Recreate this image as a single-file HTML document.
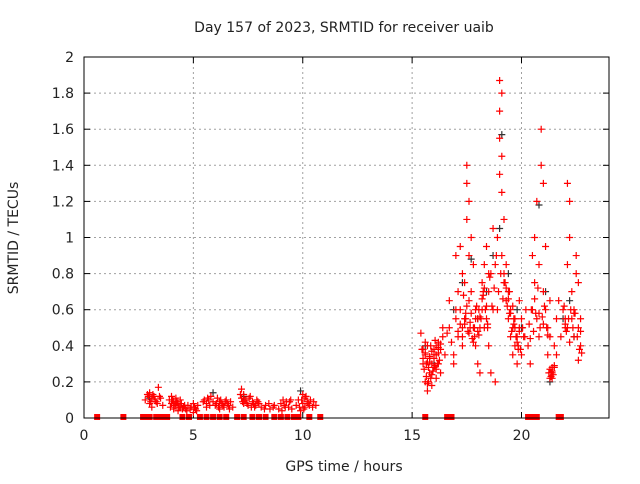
<!DOCTYPE html>
<html><head><meta charset="utf-8"><style>
body{margin:0;background:#fff;font-family:"DejaVu Sans",sans-serif}
svg text{font-family:"DejaVu Sans",sans-serif;font-size:14px;fill:#222}
</style></head><body>
<svg id="c" width="640" height="480" xmlns="http://www.w3.org/2000/svg"></svg>
<script>
const xTicks=[0,5,10,15,20];
const yTicks=[0,0.2,0.4,0.6,0.8,1,1.2,1.4,1.6,1.8,2];
const yTickLabels=["0","0.2","0.4","0.6","0.8","1","1.2","1.4","1.6","1.8","2"];
const redTimes=[2.8,2.9,3.0,3.0,3.1,3.1,3.2,3.3,3.4,3.5,3.6,3.9,4.0,4.0,4.1,4.1,4.2,4.2,4.3,4.3,4.4,4.4,4.5,4.6,4.7,4.9,5.0,5.0,5.1,5.2,5.5,5.6,5.6,5.7,5.8,5.9,6.0,6.1,6.2,6.2,6.3,6.4,6.5,6.6,6.7,6.8,7.2,7.2,7.3,7.3,7.4,7.5,7.6,7.7,7.8,7.9,8.0,8.1,8.3,8.5,8.7,8.9,9.0,9.1,9.2,9.4,9.5,9.7,9.8,9.9,10.0,10.0,10.1,10.1,10.2,10.3,10.5,10.6,
15.4,15.5,15.5,15.6,15.6,15.7,15.7,15.8,15.8,15.9,15.9,16.0,16.0,16.1,16.1,16.2,16.2,16.3,16.3,16.4,16.4,16.5,16.7,16.8,16.9,17.0,17.0,17.1,17.1,17.2,17.2,17.3,17.3,17.4,17.4,17.5,17.5,17.5,17.6,17.6,17.6,17.7,17.7,17.8,17.8,17.9,17.9,18.0,18.0,18.1,18.1,18.2,18.2,18.3,18.3,18.4,18.4,18.5,18.5,18.6,18.6,18.7,18.7,18.8,18.8,18.9,18.9,19.0,19.0,19.0,19.0,19.1,19.1,19.1,19.1,19.2,19.2,19.3,19.3,19.4,19.4,19.5,19.5,19.6,19.6,19.7,19.7,19.8,19.8,19.9,19.9,20.0,20.0,20.1,20.2,20.3,20.4,20.5,20.5,20.6,20.6,20.7,20.7,20.8,20.8,20.9,20.9,21.0,21.0,21.1,21.1,21.2,21.2,21.3,21.3,21.4,21.4,21.5,21.5,21.6,21.6,21.7,21.8,21.9,22.0,22.0,22.1,22.1,22.1,22.2,22.2,22.3,22.3,22.4,22.4,22.5,22.5,22.6,22.6,22.7,22.7,
2.95,3.05,3.15,3.25,3.35,3.45,3.95,4.05,4.15,4.25,4.35,4.45,4.55,4.65,4.75,4.85,5.05,5.15,5.45,5.65,5.75,6.05,6.15,6.25,6.35,6.45,6.55,6.65,7.15,7.25,7.35,7.45,7.55,7.65,7.75,7.85,7.95,8.25,8.45,8.65,9.05,9.15,9.25,9.35,9.45,9.85,9.95,10.05,10.15,10.25,10.35,10.45,
15.45,15.5,15.55,15.6,15.65,15.7,15.75,15.8,15.85,15.9,15.95,16.0,16.05,16.1,16.15,16.2,16.25,16.3,15.6,15.7,15.8,15.9,16.0,16.1,16.2,15.65,15.75,15.85,15.95,16.05,
16.6,16.7,16.9,17.0,17.1,17.2,17.3,17.35,17.45,17.55,17.65,17.75,17.85,17.95,18.05,18.15,18.25,18.35,18.45,17.3,17.4,17.5,17.6,17.7,17.8,17.9,18.0,18.1,18.2,18.3,18.4,18.5,17.45,17.65,17.85,18.05,18.25,18.45,
18.55,18.65,18.75,18.85,18.95,19.05,19.15,19.25,19.35,19.45,19.55,19.65,19.75,19.85,19.95,20.05,20.15,19.3,19.4,19.5,19.6,19.7,19.8,19.9,19.2,19.45,19.65,19.85,
20.35,20.45,20.55,20.65,20.75,20.85,20.95,21.05,21.15,20.4,20.6,20.8,21.0,21.2,21.25,21.3,21.35,21.4,21.45,21.5,21.3,21.4,21.35,
21.95,22.05,22.15,22.25,22.35,22.45,22.55,22.65,22.0,22.2,22.4,22.6,22.7,22.75];
const redValues=[0.1,0.13,0.08,0.14,0.11,0.06,0.12,0.09,0.17,0.11,0.07,0.1,0.08,0.12,0.05,0.09,0.07,0.11,0.04,0.08,0.06,0.1,0.05,0.07,0.04,0.06,0.03,0.08,0.05,0.07,0.1,0.08,0.06,0.1,0.12,0.09,0.07,0.11,0.05,0.09,0.08,0.06,0.1,0.07,0.09,0.06,0.11,0.16,0.08,0.13,0.1,0.07,0.12,0.09,0.06,0.1,0.08,0.06,0.07,0.05,0.07,0.05,0.08,0.1,0.06,0.09,0.05,0.07,0.1,0.04,0.08,0.13,0.06,0.11,0.09,0.07,0.09,0.07,
0.47,0.3,0.38,0.2,0.35,0.15,0.4,0.25,0.33,0.18,0.3,0.28,0.38,0.35,0.22,0.42,0.3,0.38,0.25,0.5,0.45,0.35,0.65,0.42,0.3,0.9,0.55,0.7,0.45,0.95,0.6,0.8,0.5,0.75,0.55,1.4,1.3,1.1,1.2,0.9,0.65,1.0,0.7,0.85,0.5,0.4,0.6,0.55,0.3,0.5,0.25,0.6,0.75,0.85,0.5,0.55,0.95,0.7,0.4,0.8,0.25,0.6,1.05,0.85,0.2,1.0,0.6,1.35,1.87,1.7,1.55,1.8,1.45,1.25,0.9,1.1,0.75,0.85,0.65,0.7,0.55,0.6,0.45,0.5,0.35,0.4,0.55,0.3,0.45,0.5,0.65,0.55,0.35,0.45,0.6,0.4,0.3,0.6,0.9,1.0,0.75,1.2,0.55,0.85,0.45,1.6,1.4,1.3,0.7,0.95,0.6,0.5,0.35,0.65,0.45,0.25,0.22,0.28,0.4,0.55,0.35,0.65,0.45,0.6,0.5,0.55,0.5,1.3,0.85,1.0,1.2,0.7,0.55,0.6,0.45,0.9,0.8,0.5,0.75,0.4,0.55,
0.12,0.09,0.13,0.1,0.08,0.12,0.06,0.1,0.07,0.09,0.06,0.08,0.06,0.05,0.07,0.05,0.06,0.04,0.09,0.11,0.07,0.08,0.06,0.1,0.07,0.09,0.08,0.05,0.13,0.09,0.1,0.08,0.11,0.06,0.08,0.07,0.09,0.05,0.08,0.06,0.04,0.07,0.09,0.06,0.1,0.06,0.1,0.05,0.12,0.08,0.1,0.06,
0.38,0.33,0.27,0.36,0.23,0.31,0.28,0.34,0.22,0.37,0.26,0.33,0.29,0.4,0.3,0.36,0.32,0.41,0.42,0.19,0.31,0.24,0.35,0.27,0.39,0.3,0.2,0.4,0.26,0.43,
0.47,0.5,0.35,0.6,0.48,0.52,0.45,0.68,0.58,0.48,0.53,0.44,0.5,0.62,0.46,0.55,0.7,0.6,0.5,0.4,0.52,0.62,0.47,0.58,0.42,0.55,0.48,0.56,0.66,0.72,0.62,0.8,0.55,0.5,0.45,0.6,0.68,0.52,
0.78,0.62,0.72,0.9,0.7,0.8,0.66,0.75,0.62,0.58,0.48,0.52,0.45,0.4,0.38,0.5,0.45,0.72,0.66,0.58,0.62,0.5,0.42,0.48,0.8,0.7,0.55,0.38,
0.52,0.6,0.48,0.58,0.72,0.5,0.56,0.62,0.5,0.44,0.66,0.58,0.52,0.46,0.25,0.27,0.23,0.26,0.24,0.29,0.22,0.28,0.25,
0.62,0.48,0.55,0.6,0.5,0.58,0.45,0.38,0.52,0.42,0.58,0.32,0.48,0.36];
const blackTimes=[3.0,4.2,5.9,7.3,9.9,15.6,16.0,16.9,17.3,17.7,18.0,18.4,18.7,19.0,19.1,19.4,19.8,20.0,20.8,21.1,21.3,21.9,22.2,22.4];
const blackValues=[0.11,0.08,0.14,0.12,0.15,0.4,0.3,0.6,0.75,0.88,0.55,0.7,0.9,1.05,1.57,0.8,0.6,0.5,1.18,0.7,0.2,0.55,0.65,0.45];
const zeroTimes=[0.6,1.8,2.7,2.8,2.9,3.0,3.3,3.4,3.5,3.6,3.7,3.8,4.5,4.8,5.3,5.6,5.9,6.2,6.5,7.0,7.3,7.7,8.0,8.3,8.7,9.0,9.3,9.6,9.8,10.3,10.8,15.6,16.6,16.8,20.3,20.4,20.5,20.6,20.7,21.7,21.8];

const NS="http://www.w3.org/2000/svg",svg=document.getElementById('c');
const L=84,R=609,T=57,B=418;
const xs=t=>L+(t/24)*(R-L), ys=v=>B-(v/2)*(B-T);
function mk(tag,a){const e=document.createElementNS(NS,tag);for(const k in a)e.setAttribute(k,a[k]);svg.appendChild(e);return e;}
yTicks.forEach((v,i)=>{
 if(i>0&&i<yTicks.length-1){const g=mk('line',{x1:L,x2:R,y1:ys(v),y2:ys(v),stroke:'#a0a0a0','stroke-dasharray':'2,3'});
 
 }
 const tk=mk('line',{x1:L,x2:L+6,y1:ys(v),y2:ys(v),stroke:'#000'});
 
 
 mk('line',{x1:R-6,x2:R,y1:ys(v),y2:ys(v),stroke:'#000'});
 const t=mk('text',{x:L-10,y:ys(v)+5,'text-anchor':'end'});t.textContent=yTickLabels[i];
 
 
});
xTicks.forEach(v=>{
 if(v>0){const g=mk('line',{x1:xs(v),x2:xs(v),y1:T,y2:B,stroke:'#a0a0a0','stroke-dasharray':'2,3'});
 
 }
 mk('line',{x1:xs(v),x2:xs(v),y1:B,y2:B-6,stroke:'#000'});
 mk('line',{x1:xs(v),x2:xs(v),y1:T,y2:T+6,stroke:'#000'});
 const t=mk('text',{x:xs(v),y:B+22,'text-anchor':'middle'});t.textContent=v;
 
 
});
function plus(t,v,col,name){
 const x=xs(t),y=ys(v);
 const p=mk('path',{d:`M${x-3.5},${y}h7M${x},${y-3.5}v7`,stroke:col,'stroke-width':1.2,fill:'none'});
 
 
}
blackTimes.forEach((t,i)=>plus(t,blackValues[i],'#333','srmtid-point-black'));
redTimes.forEach((t,i)=>plus(t,redValues[i],'#f00','srmtid-point'));
zeroTimes.forEach(t=>{
 const r=mk('rect',{x:xs(t)-3,y:B-4,width:6,height:6,fill:'#f00'});
 
 
});
const fr=mk('rect',{x:L,y:T,width:R-L,height:B-T,fill:'none',stroke:'#000'});


const ti=mk('text',{x:344,y:32,'text-anchor':'middle'});ti.textContent='Day 157 of 2023, SRMTID for receiver uaib';


const xt=mk('text',{x:344,y:471,'text-anchor':'middle'});xt.textContent='GPS time / hours';


const yt=mk('text',{x:0,y:0,'text-anchor':'middle',transform:'translate(18,238) rotate(-90)'});yt.textContent='SRMTID / TECUs';


</script>
</body></html>
